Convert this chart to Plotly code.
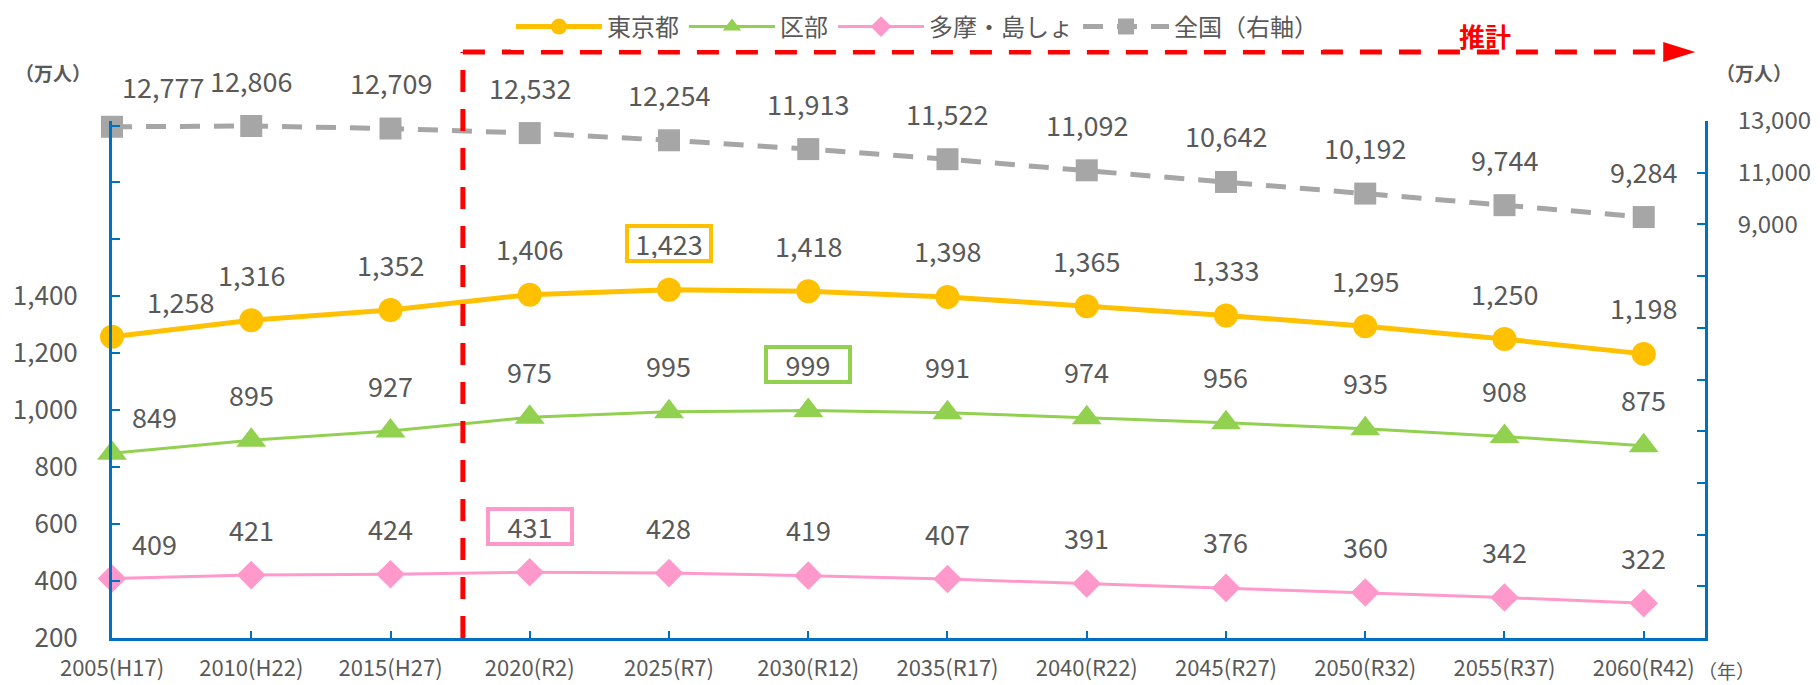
import plotly.graph_objects as go

# ---- data ----
years = ["2005(H17)", "2010(H22)", "2015(H27)", "2020(R2)", "2025(R7)", "2030(R12)",
         "2035(R17)", "2040(R22)", "2045(R27)", "2050(R32)", "2055(R37)", "2060(R42)"]
tokyo = [1258, 1316, 1352, 1406, 1423, 1418, 1398, 1365, 1333, 1295, 1250, 1198]
kubu = [849, 895, 927, 975, 995, 999, 991, 974, 956, 935, 908, 875]
tama = [409, 421, 424, 431, 428, 419, 407, 391, 376, 360, 342, 322]
zenkoku = [12777, 12806, 12709, 12532, 12254, 11913, 11522, 11092, 10642, 10192, 9744, 9284]
left_ticks = [200, 400, 600, 800, 1000, 1200, 1400, 1600, 1800, 2000]
left_labels = ["200", "400", "600", "800", "1,000", "1,200", "1,400", "", "", ""]
right_ticks = [-7000, -5000, -3000, -1000, 1000, 3000, 5000, 7000, 9000, 11000, 13000]
right_labels = ["", "", "", "", "", "", "", "", "9,000", "11,000", "13,000"]

FONT = "Noto Sans CJK JP"
GRAY_TXT = "#595959"
BLUE = "#0070C0"

# the page body adds an 8px offset; the figure is sized to fill the rest of the window
OFF = 8
W, H = 1820 - OFF, 685 - OFF
# plot area in window pixels
PL, PR, PT, PB = 112, 1705, 121, 638
ML, MR, MT, MB = PL - OFF, W - (PR - OFF), PT - OFF, H - (PB - OFF)
PW, PH = PR - PL, PB - PT
XMAX = 11.44


def cy(px):  # window y pixel -> paper y
    return (PB - px) / PH


def cx(px):  # window x pixel -> paper x
    return (px - PL) / PW


x = list(range(len(years)))

series = [
    dict(name="東京都", y=tokyo, color="#FFC000", width=5, symbol="circle", size=24, axis="y",
         dash="solid", first=(68, 35), box=4),
    dict(name="区部", y=kubu, color="#92D050", width=3, symbol="triangle-up", size=26, axis="y",
         dash="solid", first=(42, 37), box=5),
    dict(name="多摩・島しょ", y=tama, color="#FF99CC", width=3, symbol="diamond", size=22, axis="y",
         dash="solid", first=(42, 35), box=3),
    dict(name="全国（右軸）", y=zenkoku, color="#A6A6A6", width=5, symbol="square", size=22, axis="y2",
         dash="20px,14px", first=(51, 40), box=None),
]

fig = go.Figure()
annotations = []
for s in series:
    fig.add_trace(go.Scatter(
        x=x, y=s["y"], name=s["name"], mode="lines+markers", yaxis=s["axis"],
        line=dict(color=s["color"], width=s["width"], dash=s["dash"]),
        marker=dict(symbol=s["symbol"], size=s["size"], color=s["color"]),
        cliponaxis=False,
    ))
    for i, v in enumerate(s["y"]):
        dx, dy = (s["first"] if i == 0 else (0, 46))
        ann = dict(x=i, y=v, xref="x", yref=s["axis"], text=f"{v:,}", showarrow=False,
                   xshift=dx, yshift=dy, font=dict(family=FONT, size=27, color=GRAY_TXT))
        if s["box"] == i:
            ann.update(bordercolor=s["color"], borderwidth=4, borderpad=1, width=78, height=29,
                       bgcolor="white")
        annotations.append(ann)

annotations += [
    dict(x=cx(53), y=cy(72), xref="paper", yref="paper", text="（万人）", showarrow=False,
         font=dict(family=FONT, size=19, color=GRAY_TXT, weight="bold"), xanchor="center", yanchor="middle"),
    dict(x=cx(1754), y=cy(72), xref="paper", yref="paper", text="（万人）", showarrow=False,
         font=dict(family=FONT, size=19, color=GRAY_TXT, weight="bold"), xanchor="center", yanchor="middle"),
    dict(x=cx(1727), y=cy(670), xref="paper", yref="paper", text="（年）", showarrow=False,
         font=dict(family=FONT, size=19, color=GRAY_TXT), xanchor="center", yanchor="middle"),
    dict(x=9.86, y=cy(35), xref="x", yref="paper", text="推計", showarrow=False,
         font=dict(family=FONT, size=26, color="#FF0000", weight="bold"), xanchor="center", yanchor="middle"),
]

yline = cy(52)
ah = 10 / PH
shapes = [
    dict(type="line", xref="x", yref="paper", x0=2.52, x1=2.52, y0=0, y1=yline,
         line=dict(color="#FF0000", width=5, dash="22px,17px"), layer="above"),
    dict(type="line", xref="x", yref="paper", x0=2.52, x1=11.16, y0=yline, y1=yline,
         line=dict(color="#FF0000", width=5, dash="22px,17px"), layer="above"),
    dict(type="path", xref="x", yref="paper",
         path=f"M 11.14,{yline - ah} L 11.37,{yline} L 11.14,{yline + ah} Z",
         fillcolor="#FF0000", line=dict(color="#FF0000", width=0), layer="above"),
]

axis_common = dict(showgrid=False, zeroline=False, showline=True, linecolor=BLUE, linewidth=3,
                   ticks="inside", tickcolor=BLUE, tickwidth=2, automargin=False)

fig.update_layout(
    width=W, height=H,
    margin=dict(l=ML, r=MR, t=MT, b=MB, autoexpand=False),
    paper_bgcolor="white", plot_bgcolor="white",
    font=dict(family=FONT, color=GRAY_TXT),
    showlegend=True,
    legend=dict(orientation="h", xref="container", yref="container", x=(917 - OFF) / W,
                y=1 - (27 - OFF) / H, xanchor="center", yanchor="middle",
                font=dict(family=FONT, size=24, color=GRAY_TXT), itemwidth=86, tracegroupgap=0),
    xaxis=dict(range=[0, XMAX], tickvals=x, ticktext=years, ticklen=7,
               tickfont=dict(family=FONT, size=22, color=GRAY_TXT), ticklabelstandoff=9, **axis_common),
    yaxis=dict(range=[200, 2016], tickvals=left_ticks, ticktext=left_labels, ticklen=8,
               tickfont=dict(family=FONT, size=26, color=GRAY_TXT), ticklabelstandoff=26, **axis_common),
    yaxis2=dict(range=[-7000, 13000], tickvals=right_ticks, ticktext=right_labels, overlaying="y",
                side="right", ticklen=8, tickfont=dict(family=FONT, size=24, color=GRAY_TXT),
                ticklabelstandoff=25, **axis_common),
    annotations=annotations,
    shapes=shapes,
)

fig.write_html("out.html")
